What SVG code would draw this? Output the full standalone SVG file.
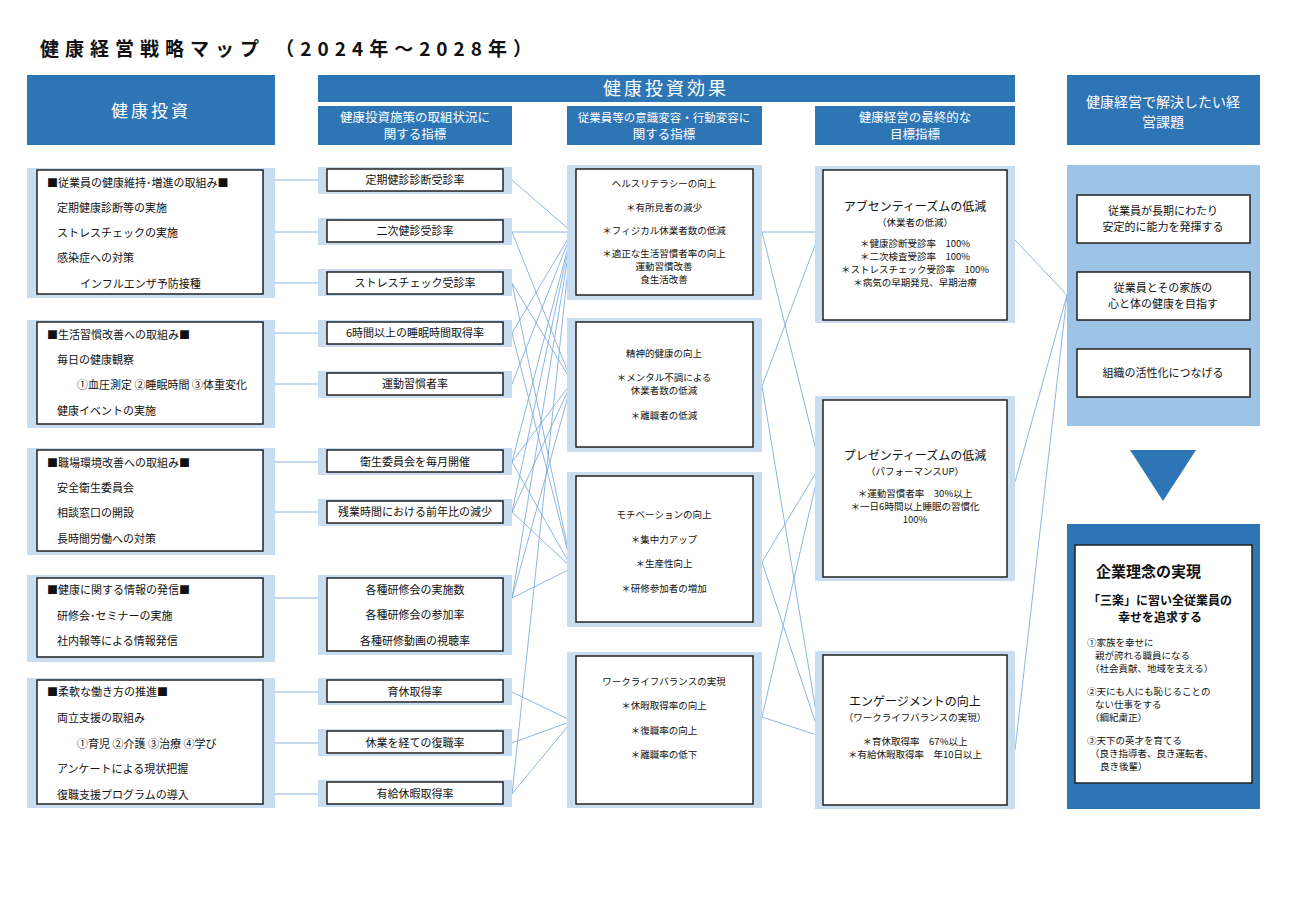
<svg xmlns="http://www.w3.org/2000/svg" width="1300" height="919" viewBox="0 0 1300 919">
<style>
text{font-family:"Noto Sans CJK JP","Liberation Sans",sans-serif;fill:#111}
.hd{fill:#2E75B6}
.hdt{fill:#fff;font-size:12.5px;text-anchor:middle}
.bg{fill:#C9DDF1}
.bx{fill:#fff;stroke:#222;stroke-width:1.5}
.t{font-size:11px}
.c{font-size:11px;text-anchor:middle}
.cs{font-size:9.5px;text-anchor:middle}
.s{font-size:9.5px}
.ln{stroke:#7FAEE0;stroke-width:0.9;fill:none}
</style>
<rect width="1300" height="919" fill="#fff"/>
<text x="40" y="56" style="font-size:19px;font-weight:bold;letter-spacing:6px">健康経営戦略マップ （2024年～2028年）</text>
<g id="headers">
<rect class="hd" x="27" y="75" width="248" height="70"/><text class="hdt" x="151" y="117" style="font-size:17px;letter-spacing:3px">健康投資</text>
<rect class="hd" x="318" y="75" width="697" height="27"/><text class="hdt" x="666" y="95" style="font-size:18px;letter-spacing:3px">健康投資効果</text>
<rect class="hd" x="318" y="106" width="194" height="39"/><text class="hdt" x="415" y="122">健康投資施策の取組状況に</text><text class="hdt" x="415" y="139">関する指標</text>
<rect class="hd" x="567" y="106" width="195" height="39"/><text class="hdt" x="664" y="122" style="font-size:11.5px">従業員等の意識変容・行動変容に</text><text class="hdt" x="664" y="139">関する指標</text>
<rect class="hd" x="815" y="106" width="200" height="39"/><text class="hdt" x="915" y="122">健康経営の最終的な</text><text class="hdt" x="915" y="139">目標指標</text>
<rect class="hd" x="1067" y="75" width="193" height="70"/><text class="hdt" x="1163" y="107" style="font-size:14px">健康経営で解決したい経</text><text class="hdt" x="1163" y="127" style="font-size:14px">営課題</text>
</g>
<g id="connectors">
<path class="ln" d="M275 180H318M275 232H318M275 283H318M275 333H318M275 384H318M275 462H318M275 512H318M275 598H318M275 692H318M275 743H318M275 794H318"/>
<path class="ln" d="M512 180L572 232M512 232L572 232M512 333L572 232M512 384L572 232M512 462L572 232M512 512L572 232M512 598L572 232M512 794L572 232"/>
<path class="ln" d="M512 232L572 382M512 283L572 382M512 462L572 382M512 512L572 382M512 598L572 382"/>
<path class="ln" d="M512 283L572 568M512 333L572 568M512 462L572 568M512 512L572 568M512 598L572 568"/>
<path class="ln" d="M512 692L572 721M512 743L572 721M512 794L572 721"/>
<path class="ln" d="M762 232L820 232M762 232L820 466M762 386L820 232M762 386L820 736M762 562L820 466M762 562L820 736M762 717L820 466M762 717L820 736"/>
<path class="ln" d="M1015 240L1067 295M1015 482L1067 295M1015 750L1067 295"/>
</g>
<g id="g1"><rect class="bg" x="27" y="168" width="248" height="130"/><rect class="bx" x="37" y="170" width="226" height="124"/>
<text class="t" x="47" y="187">■従業員の健康維持･増進の取組み■</text><text class="t" x="57" y="212">定期健康診断等の実施</text><text class="t" x="57" y="237">ストレスチェックの実施</text><text class="t" x="57" y="262">感染症への対策</text><text class="t" x="80" y="288">インフルエンザ予防接種</text></g>
<g id="g2"><rect class="bg" x="27" y="320" width="248" height="108"/><rect class="bx" x="37" y="322" width="226" height="102"/>
<text class="t" x="47" y="339">■生活習慣改善への取組み■</text><text class="t" x="57" y="364">毎日の健康観察</text><text class="t" x="77" y="389">①血圧測定 ②睡眠時間 ③体重変化</text><text class="t" x="57" y="415">健康イベントの実施</text></g>
<g id="g3"><rect class="bg" x="27" y="448" width="248" height="107"/><rect class="bx" x="37" y="450" width="226" height="101"/>
<text class="t" x="47" y="467">■職場環境改善への取組み■</text><text class="t" x="57" y="492">安全衛生委員会</text><text class="t" x="57" y="517">相談窓口の開設</text><text class="t" x="57" y="543">長時間労働への対策</text></g>
<g id="g4"><rect class="bg" x="27" y="575" width="248" height="87"/><rect class="bx" x="37" y="578" width="226" height="79"/>
<text class="t" x="47" y="594">■健康に関する情報の発信■</text><text class="t" x="57" y="620">研修会･セミナーの実施</text><text class="t" x="57" y="645">社内報等による情報発信</text></g>
<g id="g5"><rect class="bg" x="27" y="678" width="248" height="130"/><rect class="bx" x="37" y="680" width="226" height="124"/>
<text class="t" x="47" y="696">■柔軟な働き方の推進■</text><text class="t" x="57" y="722">両立支援の取組み</text><text class="t" x="77" y="748">①育児 ②介護 ③治療 ④学び</text><text class="t" x="57" y="773">アンケートによる現状把握</text><text class="t" x="57" y="799">復職支援プログラムの導入</text></g>
<g id="k1"><rect class="bg" x="318" y="167" width="194" height="27"/><rect class="bx" x="327" y="169" width="176" height="22"/><text class="c" x="415" y="184">定期健診診断受診率</text></g>
<g id="k2"><rect class="bg" x="318" y="218" width="194" height="27"/><rect class="bx" x="327" y="220" width="176" height="22"/><text class="c" x="415" y="235">二次健診受診率</text></g>
<g id="k3"><rect class="bg" x="318" y="269" width="194" height="27"/><rect class="bx" x="327" y="272" width="176" height="22"/><text class="c" x="415" y="287">ストレスチェック受診率</text></g>
<g id="k4"><rect class="bg" x="318" y="320" width="194" height="27"/><rect class="bx" x="327" y="322" width="176" height="22"/><text class="c" x="415" y="337">6時間以上の睡眠時間取得率</text></g>
<g id="k5"><rect class="bg" x="318" y="371" width="194" height="27"/><rect class="bx" x="327" y="373" width="176" height="22"/><text class="c" x="415" y="388">運動習慣者率</text></g>
<g id="k6"><rect class="bg" x="318" y="448" width="194" height="27"/><rect class="bx" x="327" y="450" width="176" height="22"/><text class="c" x="415" y="466">衛生委員会を毎月開催</text></g>
<g id="k7"><rect class="bg" x="318" y="499" width="194" height="27"/><rect class="bx" x="327" y="501" width="176" height="22"/><text class="c" x="415" y="516">残業時間における前年比の減少</text></g>
<g id="k8"><rect class="bg" x="318" y="575" width="194" height="80"/><rect class="bx" x="327" y="578" width="176" height="73"/><text class="c" x="415" y="594">各種研修会の実施数</text><text class="c" x="415" y="619">各種研修会の参加率</text><text class="c" x="415" y="645">各種研修動画の視聴率</text></g>
<g id="k9"><rect class="bg" x="318" y="678" width="194" height="27"/><rect class="bx" x="327" y="680" width="176" height="22"/><text class="c" x="415" y="696">育休取得率</text></g>
<g id="k10"><rect class="bg" x="318" y="729" width="194" height="27"/><rect class="bx" x="327" y="731" width="176" height="22"/><text class="c" x="415" y="747">休業を経ての復職率</text></g>
<g id="k11"><rect class="bg" x="318" y="780" width="194" height="27"/><rect class="bx" x="327" y="782" width="176" height="22"/><text class="c" x="415" y="798">有給休暇取得率</text></g>
<g id="b1"><rect class="bg" x="567" y="165" width="195" height="135"/><rect class="bx" x="576" y="169" width="177" height="126"/>
<text class="cs" x="664" y="187">ヘルスリテラシーの向上</text><text class="cs" x="664" y="211">＊有所見者の減少</text><text class="cs" x="664" y="234">＊フィジカル休業者数の低減</text><text class="cs" x="664" y="257">＊適正な生活習慣者率の向上</text><text class="cs" x="664" y="270">運動習慣改善</text><text class="cs" x="664" y="283">食生活改善</text></g>
<g id="b2"><rect class="bg" x="567" y="318" width="195" height="134"/><rect class="bx" x="576" y="322" width="177" height="125"/>
<text class="cs" x="664" y="357">精神的健康の向上</text><text class="cs" x="664" y="381">＊メンタル不調による</text><text class="cs" x="664" y="394">休業者数の低減</text><text class="cs" x="664" y="419">＊離職者の低減</text></g>
<g id="b3"><rect class="bg" x="567" y="472" width="195" height="155"/><rect class="bx" x="576" y="476" width="177" height="146"/>
<text class="cs" x="664" y="518">モチベーションの向上</text><text class="cs" x="664" y="543">＊集中力アップ</text><text class="cs" x="664" y="567">＊生産性向上</text><text class="cs" x="664" y="592">＊研修参加者の増加</text></g>
<g id="b4"><rect class="bg" x="567" y="652" width="195" height="156"/><rect class="bx" x="576" y="656" width="177" height="148"/>
<text class="cs" x="664" y="685">ワークライフバランスの実現</text><text class="cs" x="664" y="709">＊休暇取得率の向上</text><text class="cs" x="664" y="734">＊復職率の向上</text><text class="cs" x="664" y="758">＊離職率の低下</text></g>
<g id="f1"><rect class="bg" x="815" y="166" width="200" height="157"/><rect class="bx" x="823" y="170" width="184" height="150"/>
<text class="c" x="915" y="211" style="font-size:12px">アブセンティーズムの低減</text><text class="cs" x="915" y="226">（休業者の低減）</text><text class="cs" x="915" y="247">＊健康診断受診率　100%</text><text class="cs" x="915" y="260">＊二次検査受診率　100%</text><text class="cs" x="915" y="273">＊ストレスチェック受診率　100%</text><text class="cs" x="915" y="286">＊病気の早期発見、早期治療</text></g>
<g id="f2"><rect class="bg" x="815" y="396" width="200" height="185"/><rect class="bx" x="823" y="400" width="184" height="177"/>
<text class="c" x="915" y="460" style="font-size:12px">プレゼンティーズムの低減</text><text class="cs" x="915" y="475">（パフォーマンスUP）</text><text class="cs" x="915" y="497">＊運動習慣者率　30%以上</text><text class="cs" x="915" y="510">＊一日6時間以上睡眠の習慣化</text><text class="cs" x="915" y="523">100%</text></g>
<g id="f3"><rect class="bg" x="815" y="651" width="200" height="158"/><rect class="bx" x="823" y="655" width="184" height="150"/>
<text class="c" x="915" y="706" style="font-size:12px">エンゲージメントの向上</text><text class="cs" x="915" y="721">（ワークライフバランスの実現）</text><text class="cs" x="915" y="745">＊育休取得率　67%以上</text><text class="cs" x="915" y="758">＊有給休暇取得率　年10日以上</text></g>
<g id="issues"><rect x="1067" y="165" width="193" height="261" fill="#9DC3E6"/>
<rect class="bx" x="1077" y="195" width="173" height="48"/><text class="c" x="1163" y="215">従業員が長期にわたり</text><text class="c" x="1163" y="231">安定的に能力を発揮する</text>
<rect class="bx" x="1077" y="272" width="173" height="48"/><text class="c" x="1163" y="292">従業員とその家族の</text><text class="c" x="1163" y="308">心と体の健康を目指す</text>
<rect class="bx" x="1077" y="349" width="173" height="48"/><text class="c" x="1163" y="377">組織の活性化につなげる</text></g>
<polygon points="1130,450 1196,450 1163,501" fill="#2E75B6"/>
<g id="rinen"><rect x="1067" y="524" width="193" height="285" fill="#2E75B6"/><rect class="bx" x="1075" y="545" width="177" height="238"/>
<text x="1096" y="577" style="font-size:15px;font-weight:bold">企業理念の実現</text>
<text x="1160" y="605" style="font-size:12px;text-anchor:middle;font-weight:bold">「三楽」に習い全従業員の</text><text x="1160" y="622" style="font-size:12px;text-anchor:middle;font-weight:bold">幸せを追求する</text>
<text class="s" x="1087" y="646">①家族を幸せに</text><text class="s" x="1095" y="659">親が誇れる職員になる</text><text class="s" x="1090" y="672">（社会貢献、地域を支える）</text>
<text class="s" x="1087" y="695">②天にも人にも恥じることの</text><text class="s" x="1095" y="708">ない仕事をする</text><text class="s" x="1090" y="721">（綱紀粛正）</text>
<text class="s" x="1087" y="744">③天下の英才を育てる</text><text class="s" x="1090" y="757">（良き指導者、良き運転者、</text><text class="s" x="1100" y="770">良き後輩）</text></g>
</svg>
